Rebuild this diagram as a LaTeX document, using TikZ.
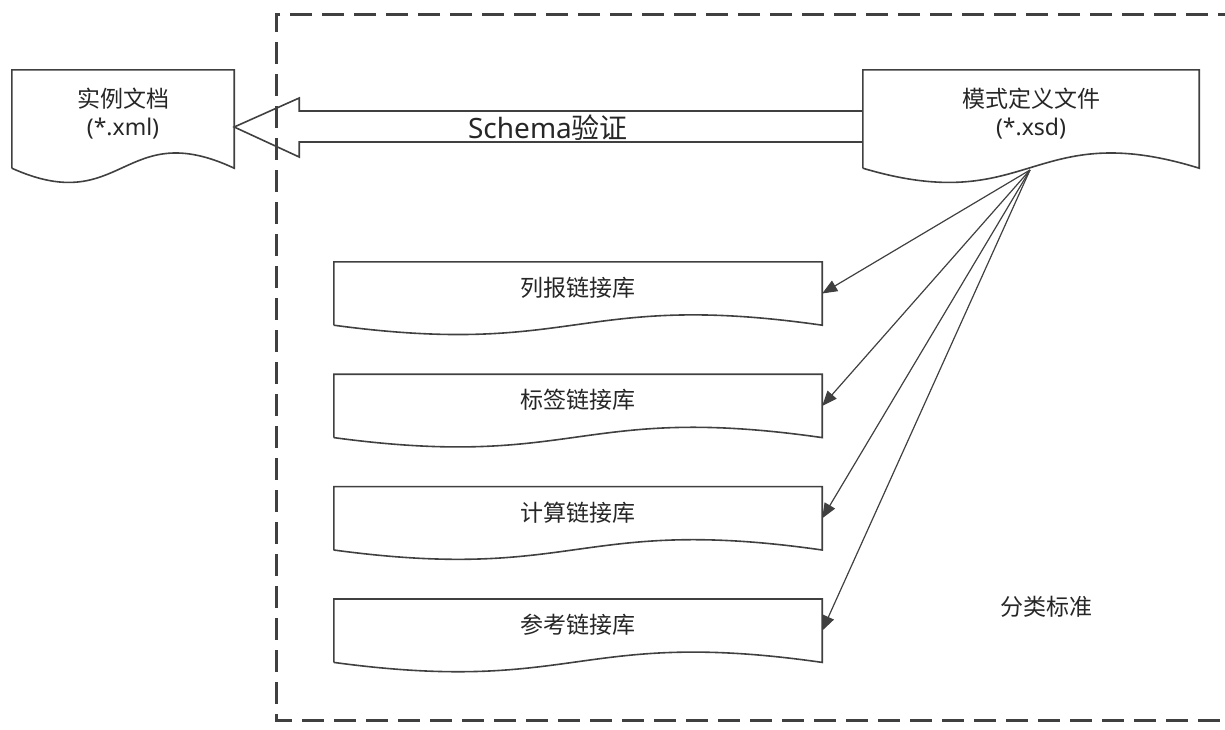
\documentclass[tikz,border=0pt]{standalone}
\usepackage{fontspec}
\setmainfont{Noto Sans}
\newfontfamily\cjk{Noto Sans CJK SC}
\usetikzlibrary{positioning,arrows.meta,calc}

\definecolor{linegray}{HTML}{404040}
\definecolor{textgray}{HTML}{262626}

% document outline around a node: name, dip, rise
\newcommand\docline[3]{%
  \draw[docedge] (#1.south west) -- (#1.north west) -- (#1.north east) -- (#1.south east)
    .. controls ($(#1.south)+(0,-#3)$) and ($(#1.south)+(0,#2)$) .. (#1.south west);}

\begin{document}
\begin{tikzpicture}[x=1pt,y=-1pt,
    doc/.style={minimum width=222pt,minimum height=98pt,inner sep=0pt,align=center,
      text depth=14pt,font=\fontsize{23}{28}\selectfont,text=textgray},
    lib/.style={minimum width=488pt,minimum height=63pt,inner sep=0pt,
      text depth=14pt,font=\fontsize{23}{28}\selectfont\cjk,text=textgray},
    docedge/.style={draw=linegray,line width=1.6pt},
    link/.style={draw=linegray,line width=1.2pt,-{Triangle[length=15pt,width=12pt]}},
    hollow/.style={draw=linegray,line width=1.6pt},
    bounddash/.style={draw=linegray,line width=3pt,dash pattern=on 22pt off 10pt}]
    \useasboundingbox (0,0) rectangle (1225,729);

    \draw[bounddash] (1240,14) -- (276,14) -- (276,720) -- (1240,720);

    \node[doc] (xml) at (123,119) {{\cjk 实例文档}\\(*.xml)};
    \node[doc,minimum width=336pt] (xsd) at (1031,119) {{\cjk 模式定义文件}\\(*.xsd)};
    \docline{xml}{50}{52}
    \docline{xsd}{50}{52}

    \node[lib] (lb) at (578,293.5) {列报链接库};
    \node[lib,below=49pt of lb] (bq) {标签链接库};
    \node[lib,below=49pt of bq] (js) {计算链接库};
    \node[lib,below=49pt of js] (ck) {参考链接库};
    \foreach \n in {lb,bq,js,ck} {\docline{\n}{33}{35}}

    \coordinate (src) at (1030,170);
    \foreach \n in {lb,bq,js,ck} {\draw[link] (src) -- (\n.east);}

    \draw[hollow] ($(xsd.west)+(0,-8)$) -- ($(xml.east)+(65,-8)$) -- ($(xml.east)+(65,-21)$)
      -- ($(xml.east)+(0,8)$) -- ($(xml.east)+(65,38)$) -- ($(xml.east)+(65,23)$)
      -- ($(xsd.west)+(0,23)$);
    \node[font=\fontsize{28}{34}\selectfont,text=textgray] (val) at (548,128) {Schema{\cjk 验证}};

    \node[font=\fontsize{23}{28}\selectfont\cjk,text=textgray] (cls) at (1046,607) {分类标准};
\end{tikzpicture}
\end{document}
